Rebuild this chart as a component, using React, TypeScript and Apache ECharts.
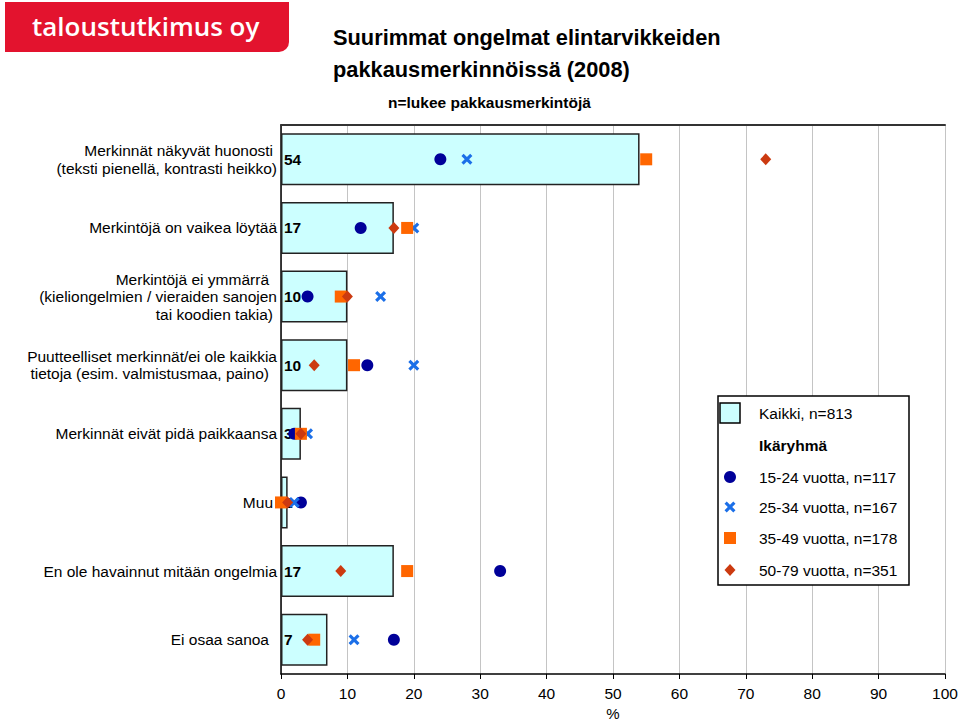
import React, { useEffect, useRef } from 'react';
import * as echarts from 'echarts';

const categories = [
  'Merkinnät näkyvät huonosti \n(teksti pienellä, kontrasti heikko)',
  'Merkintöjä on vaikea löytää',
  'Merkintöjä ei ymmärrä  \n(kieliongelmien / vieraiden sanojen\ntai koodien takia) ',
  'Puutteelliset merkinnät/ei ole kaikkia\ntietoja (esim. valmistusmaa, paino)  ',
  'Merkinnät eivät pidä paikkaansa',
  'Muu ',
  'En ole havainnut mitään ongelmia',
  'Ei osaa sanoa  ',
];

const kaikki = [54, 17, 10, 10, 3, 1, 17, 7];
const age1524 = [24, 12, 4, 13, 2, 3, 33, 17];
const age2534: (number | string)[] = [28, 20, 15, 20, 4, 2, '-', 11];
const age3549 = [55, 19, 9, 11, 3, 0, 19, 5];
const age5079 = [73, 17, 10, 5, 3, 1, 9, 4];

const seriesNames = [
  'Kaikki, n=813',
  '15-24 vuotta, n=117',
  '25-34 vuotta, n=167',
  '35-49 vuotta, n=178',
  '50-79 vuotta, n=351',
];
const xTicks = { min: 0, max: 100, interval: 10 };

const FONT = '"Liberation Sans", Arial, Helvetica, sans-serif';
const C_BAR = '#ccffff';
const C_CIRCLE = '#000099';
const C_CROSS = '#1b6fe8';
const C_SQUARE = '#ff6600';
const C_DIAMOND = '#cc3a10';
const CROSS_PATH = 'path://M0,2L2,0L5,3L8,0L10,2L7,5L10,8L8,10L5,7L2,10L0,8L3,5Z';
const LABEL_SIZE = 15.5;

function crossPoints(cx: number, cy: number, s: number) {
  const u = [[0, 2], [2, 0], [5, 3], [8, 0], [10, 2], [7, 5], [10, 8], [8, 10], [5, 7], [2, 10], [0, 8], [3, 5]];
  return u.map(([x, y]) => [cx + (x - 5) * s / 10, cy + (y - 5) * s / 10]);
}

// trailing spaces in a line become right padding (rich text)
function formatCategory(v: string) {
  return v
    .split('\n')
    .map((line) => {
      const m = line.match(/ +$/);
      const n = m ? m[0].length : 0;
      const t = line.replace(/ +$/, '');
      return `{p${n}|${t}}`;
    })
    .join('\n');
}

export default function App() {
  const ref = useRef<HTMLDivElement>(null);
  useEffect(() => {
    if (!ref.current) return;
    const chart = echarts.init(ref.current, null, { renderer: 'svg' });
    const txt = { fontFamily: FONT, color: '#000' };
    const richBase = { fontFamily: FONT, color: '#000', fontSize: LABEL_SIZE, lineHeight: 17.5 };
    const rich: any = {};
    for (let i = 0; i <= 3; i++) rich['p' + i] = { ...richBase, padding: [0, i * 4, 0, 0] };
    const legendText = (y: number, text: string, bold = false) => ({
      type: 'text', x: 759, y,
      style: { text, fontFamily: FONT, fill: '#000', fontSize: 15.5, fontWeight: bold ? 'bold' : 'normal', textVerticalAlign: 'middle' },
    });
    const option: any = {
      animation: false,
      backgroundColor: '#ffffff',
      title: [
        {
          text: 'Suurimmat ongelmat elintarvikkeiden\npakkausmerkinnöissä (2008)',
          left: 333, top: 21, padding: 0,
          textStyle: { ...txt, fontSize: 21.8, fontWeight: 'bold', lineHeight: 32 },
        },
        {
          text: 'n=lukee pakkausmerkintöjä',
          left: 388, top: 93, padding: 0,
          textStyle: { ...txt, fontSize: 15.5, fontWeight: 'bold', lineHeight: 18 },
        },
      ],
      grid: { left: 281, right: 15, top: 125, bottom: 48, outerBoundsMode: 'none', containLabel: false },
      xAxis: [
        {
          type: 'value', ...xTicks, position: 'bottom',
          axisLine: { show: true, lineStyle: { color: '#000', width: 1.5 } },
          axisTick: { show: true, length: 5, lineStyle: { color: '#000', width: 1 } },
          axisLabel: { margin: 11, fontSize: 15.5, ...txt },
          splitLine: { show: true, lineStyle: { color: '#c4c4c4', width: 1 } },
          name: '%', nameLocation: 'middle', nameGap: 31,
          nameTextStyle: { fontSize: 15, lineHeight: 16, ...txt },
        },
        {
          type: 'value', ...xTicks, position: 'top',
          axisLine: { show: true, lineStyle: { color: '#333', width: 2 } },
          axisTick: { show: false }, axisLabel: { show: false }, splitLine: { show: false },
        },
      ],
      yAxis: {
        type: 'category', data: categories, inverse: true,
        axisLine: { show: true, onZero: false, lineStyle: { color: '#000', width: 1.5 } },
        axisTick: { show: false },
        axisLabel: {
          margin: 4, fontSize: LABEL_SIZE, lineHeight: 17.5, align: 'right', ...txt,
          formatter: (v: string) => formatCategory(v), rich,
        },
        splitLine: { show: false },
      },
      series: [
        {
          name: seriesNames[0], type: 'bar', data: kaikki, barWidth: 52,
          itemStyle: { color: C_BAR, borderColor: '#222', borderWidth: 1.5 },
          label: { show: true, position: 'insideLeft', distance: 3, fontSize: 15.5, fontWeight: 'bold', ...txt },
          z: 2,
        },
        {
          name: seriesNames[1], type: 'scatter', data: age1524, symbol: 'circle', symbolSize: 12,
          itemStyle: { color: C_CIRCLE, opacity: 1 }, z: 3,
        },
        {
          name: seriesNames[2], type: 'scatter', data: age2534, symbol: CROSS_PATH, symbolSize: 11,
          itemStyle: { color: C_CROSS, opacity: 1 }, z: 3,
        },
        {
          name: seriesNames[3], type: 'scatter', data: age3549, symbol: 'rect', symbolSize: 12,
          itemStyle: { color: C_SQUARE, opacity: 1 }, z: 3,
        },
        {
          name: seriesNames[4], type: 'scatter', data: age5079, symbol: 'diamond', symbolSize: [11, 12],
          itemStyle: { color: C_DIAMOND, opacity: 1 }, z: 3,
        },
      ],
      graphic: [
        {
          type: 'rect', shape: { x: 5, y: 2, width: 284, height: 50, r: [0, 0, 10, 0] },
          style: { fill: '#e3132e' },
        },
        {
          type: 'text', x: 32, y: 26,
          style: { text: 'taloustutkimus oy', fill: '#ffffff', fontFamily: '"Open Sans", "Liberation Sans", sans-serif', fontSize: 26, fontWeight: 600, textVerticalAlign: 'middle' },
        },
        {
          type: 'rect', shape: { x: 718, y: 396, width: 191, height: 189 },
          style: { fill: '#ffffff', stroke: '#000', lineWidth: 1.5 }, z: 10,
        },
        {
          type: 'rect', shape: { x: 720, y: 403, width: 20, height: 20 },
          style: { fill: C_BAR, stroke: '#000', lineWidth: 1.5 }, z: 11,
        },
        { ...legendText(413, seriesNames[0]), z: 11 },
        { ...legendText(445, 'Ikäryhmä', true), z: 11 },
        { type: 'circle', shape: { cx: 730, cy: 477, r: 6 }, style: { fill: C_CIRCLE }, z: 11 },
        { ...legendText(477, seriesNames[1]), z: 11 },
        { type: 'polygon', shape: { points: crossPoints(730, 507, 11) }, style: { fill: C_CROSS }, z: 11 },
        { ...legendText(507, seriesNames[2]), z: 11 },
        { type: 'rect', shape: { x: 724, y: 532, width: 12, height: 12 }, style: { fill: C_SQUARE }, z: 11 },
        { ...legendText(538, seriesNames[3]), z: 11 },
        { type: 'polygon', shape: { points: [[730, 564], [735.5, 570], [730, 576], [724.5, 570]] }, style: { fill: C_DIAMOND }, z: 11 },
        { ...legendText(570, seriesNames[4]), z: 11 },
      ],
    };
    chart.setOption(option);
    return () => chart.dispose();
  }, []);
  return (
    <div
      ref={ref}
      style={{ position: 'fixed', left: 0, top: 0, width: 960, height: 722, background: '#fff' }}
    />
  );
}
